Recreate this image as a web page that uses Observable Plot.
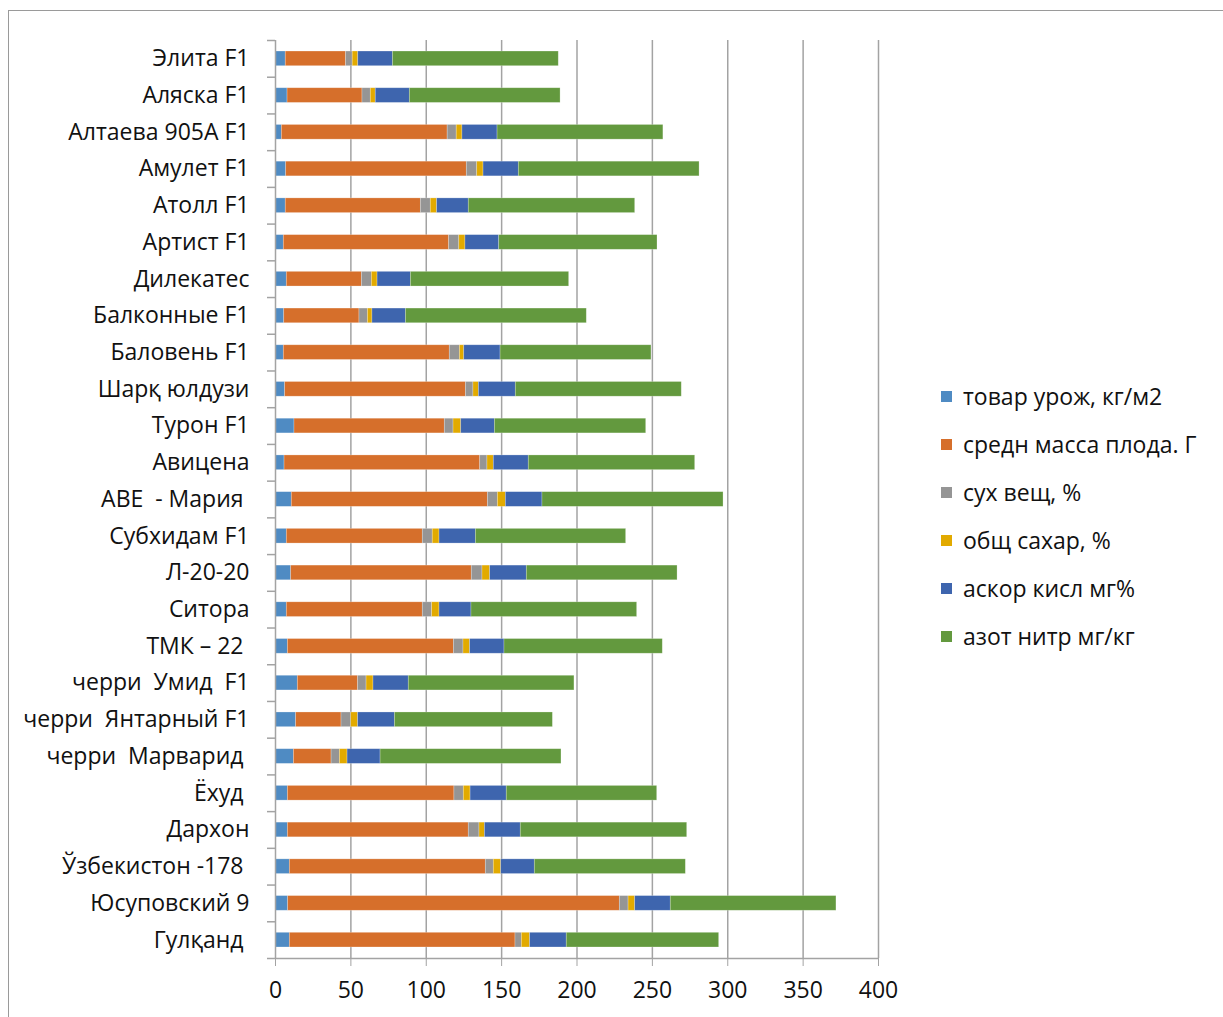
<!DOCTYPE html>
<html>
<head>
<meta charset="utf-8">
<script src="https://cdn.jsdelivr.net/npm/d3@7"></script>
<script src="https://cdn.jsdelivr.net/npm/@observablehq/plot@0.6"></script>
<style>
  html, body { margin: 0; padding: 0; background: #fff; overflow: hidden; }
  body { width: 1223px; height: 1017px; position: relative; font-family: "Open Sans", Lato, sans-serif; }
  #frame { position: absolute; left: 8px; top: 10px; width: 1230px; height: 1030px; border: 1px solid #9a9a9a; box-sizing: border-box; }
  #chart { position: absolute; left: 0; top: 0; }
  #chart svg text { white-space: pre; }
  #legend { position: absolute; left: 941px; top: 372px; }
  .item { display: flex; align-items: center; height: 48px; font-size: 23px; color: #111; }
  .sw { width: 11px; height: 11px; margin-right: 11px; flex: none; }
</style>
</head>
<body>
<div id="frame"></div>
<div id="chart"></div>
<div id="legend"></div>
<script>
const categories = ["Элита F1", "Аляска F1", "Алтаева 905А F1", "Амулет F1", "Атолл F1", "Артист F1",
  "Дилекатес", "Балконные F1", "Баловень F1", "Шарқ юлдузи", "Турон F1", "Авицена", "АВЕ  - Мария ",
  "Субхидам F1", "Л-20-20", "Ситора", "ТМК – 22 ", "черри  Умид  F1", "черри  Янтарный F1",
  "черри  Марварид ", "Ёхуд ", "Дархон", "Ўзбекистон -178 ", "Юсуповский 9", "Гулқанд "];

const seriesNames = ["товар урож, кг/м2", "средн масса плода. Г", "сух вещ, %", "общ сахар, %", "аскор кисл мг%", "азот нитр мг/кг"];
const seriesColors = ["#4f8bc3", "#d66f2b", "#959595", "#e2aa00", "#3e65ae", "#63993e"];

const yieldKg   = [6.8, 8.0, 4.2, 7.1, 6.8, 5.5, 7.5, 5.8, 5.5, 6.4, 12.6, 6.0, 10.8, 7.5, 10.4, 7.5, 8.2, 14.8, 13.7, 12.2, 8.2, 8.2, 9.5, 8.4, 9.5];
const fruitMass = [40, 49.7, 110, 119.8, 89.6, 109.7, 49.8, 49.9, 110.1, 119.9, 99.7, 129.8, 130.1, 90.2, 119.8, 90.2, 110.1, 40, 30.1, 25, 110.5, 120, 130, 220, 149.7];
const dryMatter = [4.4, 5.5, 6.0, 6.9, 6.6, 6.7, 6.6, 5.6, 6.7, 5.0, 5.8, 4.8, 6.6, 6.6, 7.1, 6.2, 6.4, 5.6, 6.4, 5.5, 6.2, 7.1, 5.3, 5.8, 4.2];
const sugar     = [3.7, 3.3, 3.8, 4.2, 4.2, 4.1, 3.8, 3.0, 2.9, 3.6, 5.1, 4.2, 5.3, 4.5, 5.1, 4.9, 4.4, 4.6, 4.6, 5.1, 4.5, 3.6, 4.9, 4.4, 5.5];
const ascorbic  = [23, 22.6, 23.3, 23.4, 21, 22.4, 22.1, 22.2, 24.1, 24.5, 22.3, 23.2, 24.3, 24.1, 24.3, 21.2, 22.8, 23.4, 24.4, 21.9, 24, 23.8, 22.3, 23.6, 24.3];
const nitrate   = [110, 100, 110, 119.9, 110.4, 105, 105, 120, 100.1, 110.1, 100.4, 110.4, 120.1, 99.7, 100, 109.9, 105, 109.9, 104.8, 120, 99.8, 110.4, 100.2, 109.9, 101.1];

const xTicks = [0, 50, 100, 150, 200, 250, 300, 350, 400];

const seriesValues = [yieldKg, fruitMass, dryMatter, sugar, ascorbic, nitrate];
const data = [];
categories.forEach((c, i) => {
  seriesNames.forEach((s, j) => data.push({cat: c, series: s, value: seriesValues[j][i]}));
});

const H = 1017, W = 1223;
const mTop = 40, mBottom = H - 958;
const step = (958 - 40) / categories.length;
const font = "'Open Sans', Lato, sans-serif";

const plot = Plot.plot({
  width: W,
  height: H,
  marginLeft: 275,
  marginRight: W - 878,
  marginTop: mTop,
  marginBottom: mBottom,
  style: {fontFamily: font, fontSize: "23px", color: "#111", background: "transparent"},
  x: {domain: [0, 400], ticks: xTicks, label: null},
  y: {domain: categories, paddingInner: 0.6, paddingOuter: 0.3, round: false, label: null},
  color: {domain: seriesNames, range: seriesColors},
  marks: [
    Plot.gridX(xTicks.slice(1), {stroke: "#a3a3a3", strokeOpacity: 1, strokeWidth: 1.5}),
    Plot.barX(data, {y: "cat", x: "value", fill: "series", stroke: "#ffffff", strokeOpacity: 0.35, strokeWidth: 0.7}),
    Plot.ruleX([0], {stroke: "#a3a3a3", strokeWidth: 1.5}),
    Plot.axisX({ticks: xTicks, tickSize: 8, tickPadding: 15, stroke: "#a3a3a3", fontSize: 23, fill: "#111", label: null}),
    Plot.axisY({tickSize: 0, tickPadding: 26, fontSize: 23, fill: "#111", label: null}),
    Plot.axisY({tickSize: 8, text: null, dy: -step / 2, stroke: "#a3a3a3", strokeWidth: 1.5, label: null}),
    Plot.axisY(categories.slice(-1), {tickSize: 8, text: null, dy: step / 2, stroke: "#a3a3a3", strokeWidth: 1.5, label: null}),
    Plot.ruleY(categories.slice(-1), {dy: step / 2, stroke: "#a3a3a3", strokeWidth: 1.5})
  ]
});
document.getElementById("chart").append(plot);

const legend = document.getElementById("legend");
seriesNames.forEach((s, j) => {
  const it = document.createElement("div");
  it.className = "item";
  const sw = document.createElement("span");
  sw.className = "sw";
  sw.style.background = seriesColors[j];
  const t = document.createElement("span");
  t.textContent = s;
  it.append(sw, t);
  legend.append(it);
});
</script>
</body>
</html>
